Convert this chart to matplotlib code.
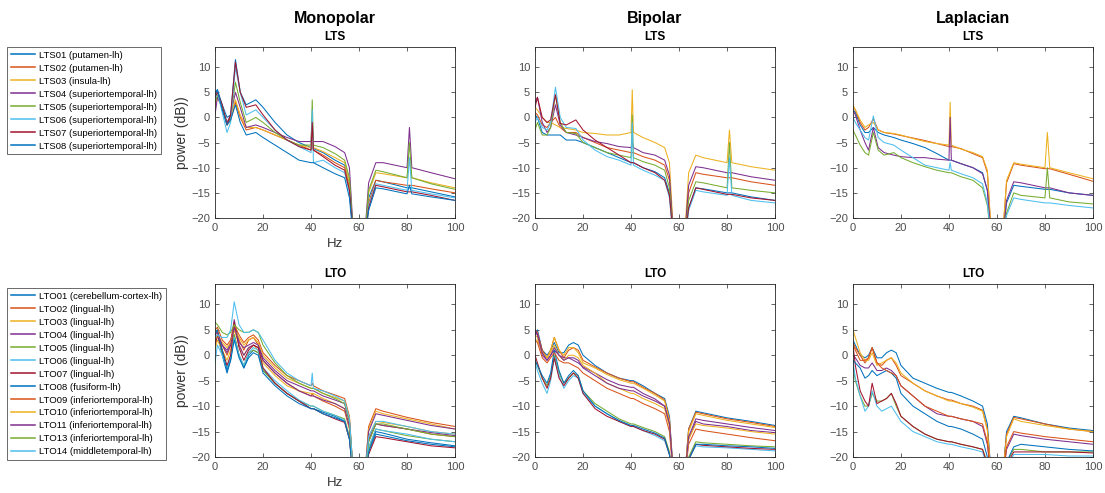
import numpy as np
import matplotlib.pyplot as plt

plt.rcParams['font.family'] = ['Liberation Sans', 'DejaVu Sans']

# Warna default MATLAB (urutan garis)
colors = ['#0072BD', '#D95319', '#EDB120', '#7E2F8E', '#77AC30', '#4DBEEE', '#A2142F']

# Frekuensi (Hz) tempat nilai
freq_lts = [0, 1, 3, 5, 6.5, 8.5, 10.5, 13, 17, 20, 25, 30, 35, 40, 40.5, 41, 45, 50,
            54, 56, 58, 62, 64, 67, 70, 80, 81, 82, 90, 100]
freq_lto = [0, 1, 3, 5, 6.5, 8, 10, 12, 14, 16, 18, 20, 25, 30, 35, 40, 40.5, 41, 45, 50,
            54, 56, 58, 62, 64, 67, 70, 80, 90, 100]

lts_labels = ['LTS01 (putamen-lh)', 'LTS02 (putamen-lh)', 'LTS03 (insula-lh)',
              'LTS04 (superiortemporal-lh)', 'LTS05 (superiortemporal-lh)',
              'LTS06 (superiortemporal-lh)', 'LTS07 (superiortemporal-lh)',
              'LTS08 (superiortemporal-lh)']
lto_labels = ['LTO01 (cerebellum-cortex-lh)', 'LTO02 (lingual-lh)', 'LTO03 (lingual-lh)',
              'LTO04 (lingual-lh)', 'LTO05 (lingual-lh)', 'LTO06 (lingual-lh)',
              'LTO07 (lingual-lh)', 'LTO08 (fusiform-lh)', 'LTO09 (inferiortemporal-lh)',
              'LTO10 (inferiortemporal-lh)', 'LTO11 (inferiortemporal-lh)',
              'LTO13 (inferiortemporal-lh)', 'LTO14 (middletemporal-lh)']

# Power (dB) - Monopolar LTS
mono_lts = [
    [4.5, 5.5, 2.5, 0, 0.5, 11.5, 5, 2.5, 3.5, 2, -1, -3.5, -5, -6, -6, -6.2, -7, -8.5, -9.5, -13, -26, -26, -16, -12.5, -12.8, -14, -14, -14, -14.8, -15.8],
    [3, 4, 2, -1.5, -0.5, 3, 0, -2.5, -2, -2.5, -3.5, -4.5, -5.5, -6.5, -5, -6.5, -7.5, -9, -10, -14, -26, -26, -17, -12.5, -12.8, -13.5, -13.5, -13.5, -14.2, -15],
    [2.5, 4, 2, -1, 0, 3.5, 0.5, -2, -2, -2.5, -3.5, -4.5, -5.5, -6, -3, -6, -6.8, -8, -9, -13, -26, -26, -15, -11, -11.2, -12, -8, -12, -13, -14],
    [0.5, 4, 2, -1, 0.5, 5, 2, -2, -1.5, -2, -3, -4, -4.8, -4.8, 0, -4.8, -4.8, -5.8, -7, -10, -26, -26, -13, -9, -9, -10, -2, -10, -11, -12.2],
    [3, 4.5, 2, -1.5, 0, 7, 3, -1, 0, -1, -3, -4.5, -5.5, -5.5, 3.5, -5.5, -6, -7.2, -8.5, -12, -26, -26, -14.5, -10.5, -10.8, -12, -5, -12, -13.2, -14.3],
    [3.5, 5, 1, -3, -1, 10, 5, 0.5, 1.5, 0, -2.5, -4.5, -5.8, -7, 1.5, -9, -8.5, -10, -11, -15, -26, -26, -17.5, -13.2, -13.5, -14.5, -8, -14.5, -15.2, -16],
    [4, 5, 2.5, -1.5, 0.5, 11, 5, 2, 2.5, 0.5, -2.5, -4.5, -5.8, -6.5, -1, -6.5, -7.8, -9.5, -10.5, -14.5, -26, -26, -18, -13.5, -13.8, -14.8, -14.8, -14.8, -15.5, -16.5],
    [5, 5.5, 1.5, -1.5, -0.5, 2.5, -1, -3.5, -3, -4, -5.5, -7, -8.5, -9, -9, -9, -10, -11.2, -12, -16, -26, -26, -18.5, -14, -14.2, -15.2, -13.5, -15.2, -15.8, -16.5],
]

# Power (dB) - Bipolar LTS
bip_lts = [
    [0.5, 0, -3, -3.5, -3.5, -3.5, -3.5, -4.5, -4.5, -5, -6, -7, -8, -9, -9, -9, -10, -10.8, -12, -15, -26, -26, -18, -14, -14.2, -15, -15, -15, -15.8, -16.5],
    [1, 0.5, -1.5, -2, -1, 0, -2, -3, -3, -4, -5, -6, -6.5, -7, -7, -7, -7.8, -8.5, -9.5, -12.5, -26, -26, -15, -11, -11.3, -12, -12, -12, -12.8, -13.5],
    [2, 1.5, 0, -1, -1, -1.5, -2, -2.2, -2.5, -3, -3.2, -3.5, -3.5, -3, 5.5, -3, -4, -5, -6, -9, -26, -26, -11, -7.5, -8, -9, -2.5, -9, -9.8, -10.5],
    [3, 4, -1, -3, -2, 2.5, -1.5, -3, -3.5, -4, -4.8, -5.2, -5.8, -6, -5, -6, -7, -7.5, -8.5, -11.5, -26, -26, -13.5, -9.8, -10, -11, -11, -11, -11.8, -12.5],
    [-2.5, -1, -3.5, -3.5, -2, 4.5, -1, -3, -3.2, -5, -6, -7, -7.5, -8, 0.5, -8, -8.8, -9.5, -10.5, -14, -26, -26, -16.5, -12.8, -13, -14, -5, -14, -14.5, -15],
    [-1, 0, -2, -2.5, -1, 6, 0, -2, -2.2, -4.5, -6.5, -7.8, -8.5, -9.5, -1, -9.5, -10.5, -11.5, -12.5, -16, -26, -26, -18.5, -14.5, -14.8, -15.5, -8, -15.5, -16.5, -17],
    [2, 4, 0, -1, -0.5, 4.5, -1.2, -1.5, -0.5, -2.5, -4.5, -6, -7.5, -9, -9, -9, -10, -11, -12.5, -15.5, -26, -26, -18, -14, -14.3, -15.3, -15.3, -15.3, -16, -16.5],
]

# Power (dB) - Laplacian LTS
lap_lts = [
    [1.5, 1, -1.5, -3, -3, -2, -3, -3.5, -4, -4.5, -5.2, -6, -7.2, -8.5, -8.5, -8.5, -9.2, -10, -11, -14.5, -26, -26, -17, -13.5, -13.7, -14.3, -14.3, -14.3, -15, -15.5],
    [2, 1.5, -1, -2.5, -2, -0.3, -2.5, -3, -3.3, -3.6, -4.1, -4.6, -5.2, -5.8, -5.8, -5.8, -6.2, -7.2, -8, -11, -26, -26, -13, -9.2, -9.5, -10.2, -10.2, -10.2, -11.3, -12.7],
    [2.5, 1.5, -0.5, -2, -1.5, -1, -2.5, -3, -3.2, -3.5, -4.2, -4.8, -5.2, -5.5, 3, -5.5, -6.3, -7, -7.8, -10.5, -26, -26, -12.5, -9, -9.3, -10, -3, -10, -11, -12.2],
    [1.5, 0.5, -2.5, -5, -6.5, -2, -6, -7, -7.5, -7.8, -8, -8, -8.3, -8.5, 0, -8.5, -9.2, -10, -11.2, -14.5, -26, -26, -16.5, -12.8, -13, -14, -14, -14, -15, -15.5],
    [-2.5, -3.5, -5.5, -7, -7.5, -3, -6.5, -7.5, -7, -8, -9, -9.8, -10.5, -11, -11, -11, -11.8, -12.5, -14, -17.5, -26, -26, -19, -15, -15.5, -16, -10, -16, -16.8, -17.2],
    [0, -1, -2.5, -4, -4.5, 0.3, -4, -5, -5.5, -6.5, -8, -9.5, -10, -10.5, -9, -10.5, -11.2, -12, -13.2, -17, -26, -26, -19.5, -16, -16.3, -17, -17, -17, -17.5, -18],
]

# Power (dB) - Monopolar LTO
mono_lto = [
    [3, 4, 0, -3.5, -1, 4, 0, -2.5, 0, 1, 0.5, -3, -5.5, -7.5, -9, -10.5, -10.5, -10.5, -11.2, -12, -13, -16, -26, -26, -19, -15.5, -15.8, -16.8, -17.5, -18],
    [2, 4, 2, 0, 2, 6, 3, 1, 3, 3.5, 2, -1, -3.5, -5.5, -7, -8, -7.5, -8, -9, -10, -11, -14.5, -26, -26, -17, -13.5, -13.8, -14.5, -15.5, -16],
    [1, 3, 1, -1, 1, 5, 2, 0, 1.5, 2, 1, -1.5, -4, -6, -7, -7.5, -7.5, -7.5, -8.5, -9.5, -10.5, -14, -26, -26, -16, -13, -13.2, -14, -15, -15.5],
    [3, 4, 2, 1, 2.5, 7, 2, 0, 1.5, 2, 1.5, -1, -3.5, -5.5, -7, -8, -8, -8, -8.8, -9.5, -10.5, -14, -26, -26, -16.5, -13.5, -13.8, -14.5, -15.2, -15.8],
    [4, 5, 0.5, -2.5, -0.5, 4, 0, -2, 0.5, 1, 0.5, -3, -5.5, -7.5, -9, -10, -10, -10, -11, -11.8, -12.5, -16, -26, -26, -18.5, -14.5, -14.8, -15.8, -16.5, -17],
    [-1.5, 2, 0, -2.5, -0.5, 3.5, 0, -2, 0.5, 1.5, 1, -2.5, -5, -7, -8.8, -10, -10, -10, -11, -11.8, -12.8, -16.5, -26, -26, -18, -14.5, -14.8, -15.5, -16.5, -17],
    [2, 4, 1, -2, 0, 6.5, 1.5, -1, 1, 2, 1.5, -2.5, -5.5, -7.5, -9, -10.5, -10.5, -10.5, -11.5, -12.5, -13.2, -16.5, -26, -26, -19.5, -16, -16.2, -17, -17.8, -18.2],
    [4, 5, 1, -3, -1, 3, -0.5, -2.5, -0.5, 0.5, 0, -3.5, -6, -8, -9.5, -10.5, -10.5, -10.5, -11.5, -12.3, -13, -16.5, -26, -26, -19, -15, -15.3, -16.5, -17.2, -17.8],
    [5, 5.5, 3, 2, 3, 6, 4, 2.5, 3.5, 4, 3, 0.5, -2, -4, -5, -6, -5.5, -6, -7, -7.8, -8.5, -12, -26, -26, -14, -10.5, -11, -12.2, -13.2, -14],
    [3, 4, 2.5, 1.5, 2.5, 5, 3.5, 2, 3, 3.5, 2.5, 0, -2.5, -4.5, -5.5, -6.5, -6.5, -6.5, -7.5, -8.3, -9, -12.5, -26, -26, -14.5, -11, -11.5, -12.5, -13.5, -14.5],
    [4, 4.5, 2, 0.5, 2, 5.5, 2.5, 1.5, 2, 2.5, 2, -0.5, -3, -5, -6, -7, -7, -7, -8, -8.8, -9.5, -13, -26, -26, -15, -11.5, -11.8, -12.8, -13.8, -14.5],
    [6.5, 6, 4.5, 4, 4.5, 6, 5, 4.5, 4.5, 5, 4.5, 2, -1.5, -4, -5.5, -6.5, -6.5, -6.5, -7.5, -8.5, -9.5, -13, -26, -26, -17, -13.5, -13.5, -14.5, -15.5, -16],
    [3.5, 4, 3.5, 3.5, 5, 10.5, 6, 4.5, 4.5, 5, 4.5, 3, -1, -3.5, -5, -6, -3.5, -6.5, -7, -8, -9, -12.5, -26, -26, -16, -13, -13, -14, -15, -15.5],
]

# Power (dB) - Bipolar LTO
bip_lto = [
    [4, 5, 1, 0, 1, 2.5, 0.5, 0.5, 2, 2.5, 2, 0, -2, -3.5, -4.5, -5, -5, -5, -6, -7.5, -8.5, -12, -26, -26, -14.5, -11, -11.3, -12.3, -13, -13.8],
    [5, 4.5, 1, -0.5, 1, 3.5, 1, -0.5, 1, 1.5, 1, -1, -2.3, -3.5, -4.5, -5.2, -5.2, -5.2, -6.3, -7.5, -8.8, -12.5, -26, -26, -14.5, -11.2, -11.5, -12.5, -13.2, -14],
    [3, 3, 0.5, -0.5, 1, 3.5, 1, 0, 1.5, 1.5, 0.5, -1.5, -2.5, -3.8, -4.8, -5.5, -5.5, -5.5, -6.5, -7.8, -9, -12.8, -26, -26, -15, -11.5, -11.8, -12.8, -13.5, -14.2],
    [4.5, 4, 0, -1, 0, 1, 0, -0.5, -0.5, -1, -1.5, -2.3, -3.5, -4.8, -5.8, -6.3, -6.3, -6.3, -7.5, -8.6, -10, -13.5, -26, -26, -16.5, -13, -13.5, -14, -14.8, -15.2],
    [-1, -2, -4.5, -6, -4, 0, -3.5, -5.5, -4.5, -3.5, -4, -7, -9.5, -11, -12.5, -13.5, -13.5, -13.5, -14.2, -15, -16, -19, -26, -26, -20, -17, -17.2, -17.5, -17.8, -18],
    [-1.5, -3, -5.5, -7.5, -5, -0.5, -4, -6.5, -5, -4, -4.5, -7.5, -10, -11.5, -13, -14, -14, -14, -14.8, -15.8, -16.8, -19.5, -26, -26, -20.5, -17.8, -18, -18.2, -18.5, -18.8],
    [0, -1.5, -4.5, -6.5, -4.5, -0.5, -4.5, -6, -4.5, -3.5, -4.5, -7.5, -10.5, -12, -13, -14, -14, -14, -14.8, -15.5, -16.5, -19.5, -26, -26, -20.5, -17.5, -17.7, -18, -18.3, -18.5],
    [-1, -2, -4, -5.5, -3.5, 1, -3, -5.5, -4, -3, -4, -7, -10, -11.5, -12.8, -13.8, -13.8, -13.8, -14.5, -15.3, -16.3, -19.5, -26, -26, -20.5, -17.5, -17.5, -17.8, -18, -18.3],
    [3, 2.5, -0.5, -1.5, -0.5, 0.5, -1, -1.5, -1.5, -2, -2.5, -3.5, -5, -6.5, -7.5, -8.5, -8.5, -8.5, -9.5, -10.5, -11.5, -15, -26, -26, -17.5, -14.5, -14.8, -15.5, -16.2, -16.8],
    [4, 3.5, 0.5, -0.5, 0.5, 2, 0, -1, 0, 0, -0.5, -2, -3.5, -5.5, -6.5, -7.5, -7.5, -7.5, -8.5, -9.5, -10.5, -14, -26, -26, -16.5, -13.5, -13.8, -14.3, -15, -15.5],
    [5, 4, 0.5, -1, 0, 1.5, 0, -1, -0.5, -0.5, -1, -2.5, -4, -5.5, -6.5, -7, -7, -7, -8, -9, -10, -13.5, -26, -26, -16, -12.5, -12.8, -13.5, -14.2, -14.8],
]

# Power (dB) - Laplacian LTO
lap_lto = [
    [3, 2, 0, -0.5, 0, 1.5, -0.5, -0.5, 0.5, 1, 0.5, -2, -4.5, -5.5, -6.5, -7.3, -7.3, -7.3, -8, -9, -10, -13.5, -26, -26, -15, -12, -12.3, -13.5, -14.3, -14.8],
    [2.5, 1.5, 0, -1.5, -0.5, 1.5, -1.5, -2, -1, -0.5, -2, -4, -5.5, -7, -8, -8.8, -8.8, -8.8, -9.5, -10, -10.8, -14.5, -26, -26, -15.5, -12.2, -12.5, -13.5, -14.5, -15],
    [5, 3.5, 0.5, -1, -1, 0.5, -2, -1.5, -1, -0.5, -1.5, -3.5, -5.5, -7, -8, -9, -9, -9, -9.5, -10.2, -11, -14.8, -26, -26, -16, -12.5, -13, -13.8, -14.5, -15],
    [0, -0.5, -2, -2.5, -2.5, -1.5, -3, -3, -2.5, -3, -4, -6, -8, -10, -11.5, -12, -12, -12, -12.5, -13, -14, -17.5, -26, -26, -18.5, -15.5, -15.8, -16.5, -17, -17.5],
    [-2, -5, -8, -10, -10, -7.5, -9, -9, -8.5, -7.5, -10, -12, -14, -15.5, -16.5, -17, -17, -17, -17.5, -18, -18.5, -21, -26, -26, -21, -18.5, -18.5, -19, -19, -19],
    [-1, -4.5, -8, -11, -10, -7, -10, -11, -10.5, -10, -11.5, -13, -15, -16, -17, -17.5, -17.5, -17.5, -18, -18.5, -19, -22, -26, -26, -22, -19.5, -19.5, -19.5, -19.8, -19.8],
    [2, -2, -7, -9, -10, -5.5, -9.5, -9, -8.5, -7.5, -9.5, -12, -14, -15.5, -16.5, -17, -17, -17, -17.5, -18, -18.5, -21.5, -26, -26, -21.5, -19, -19, -19, -19, -19.2],
    [-1, -1.5, -2.5, -4.5, -4, -3, -4, -3.5, -3, -3.5, -4.5, -7.5, -10, -11.5, -13, -14, -14, -14, -14.5, -15.5, -16.5, -20, -26, -26, -21, -18, -17.5, -18, -18.5, -18.8],
    [2, 1, -1, -1, -0.5, 1.5, -1.5, -2.5, -3, -3.5, -4, -6, -8, -10, -11, -12, -12, -12, -12.5, -13, -13.5, -17, -26, -26, -18, -15, -15.3, -16, -16.5, -17],
]

fig = plt.figure(figsize=(11.05, 4.93), dpi=100)

# Posisi sumbu (fraksi figure)
lefts = [0.1946, 0.4842, 0.7719]
width = 0.2172
rows = [(0.5578, 0.3469), (0.0730, 0.3509)]

panels = [
    [mono_lts, bip_lts, lap_lts],
    [mono_lto, bip_lto, lap_lto],
]
freqs = [freq_lts, freq_lto]
row_titles = ['LTS', 'LTO']
col_titles = ['Monopolar', 'Bipolar', 'Laplacian']

axes = []
for r in range(2):
    for c in range(3):
        ax = fig.add_axes([lefts[c], rows[r][0], width, rows[r][1]])
        for i, vals in enumerate(panels[r][c]):
            ax.plot(freqs[r], vals, color=colors[i % 7], lw=0.75)
        ax.set_xlim(0, 100)
        ax.set_ylim(-20, 14)
        ax.set_xticks([0, 20, 40, 60, 80, 100])
        ax.set_yticks([-20, -15, -10, -5, 0, 5, 10])
        ax.tick_params(direction='in', top=True, right=True, length=3, width=0.5,
                       labelsize=8, colors='#262626', labelcolor='#4d4d4d')
        for s in ax.spines.values():
            s.set_color('#262626')
            s.set_linewidth(0.6)
        ax.set_title(row_titles[r], fontsize=8.5, fontweight='bold', pad=5)
        if c == 0:
            ax.set_ylabel('power (dB))', fontsize=10, color='#333333', labelpad=2)
            ax.set_xlabel('Hz', fontsize=9.5, color='#333333', labelpad=4)
        axes.append(ax)

# Judul kolom
for c in range(3):
    fig.text(lefts[c] + width / 2, 1 - 18 / 493, col_titles[c], ha='center', va='center',
             fontsize=11.5, fontweight='bold')

# Legenda
leg_kw = dict(loc='upper left', fontsize=6.8, frameon=True, fancybox=False,
              edgecolor='#262626', handlelength=2.6, labelspacing=0.42, borderpad=0.4,
              handletextpad=0.4, borderaxespad=0)
leg1 = fig.legend(axes[0].get_lines(), lts_labels, bbox_to_anchor=(7 / 1105, 1 - 47 / 493), **leg_kw)
leg2 = fig.legend(axes[3].get_lines(), lto_labels, bbox_to_anchor=(7 / 1105, 1 - 288 / 493), **leg_kw)
for leg in (leg1, leg2):
    leg.get_frame().set_linewidth(0.6)
    for ln in leg.get_lines():
        ln.set_linewidth(1.1)

fig.savefig('out.png', dpi=100)
